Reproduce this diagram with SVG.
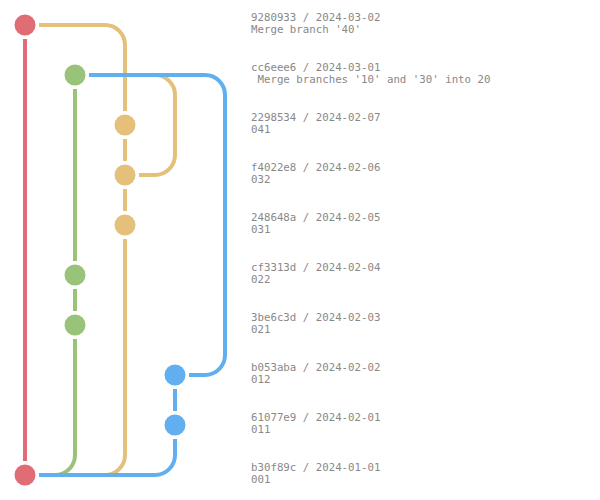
<svg xmlns="http://www.w3.org/2000/svg" width="600" height="500" viewBox="0 0 600 500">
<style>
.c{fill:none;stroke-width:4;stroke-linecap:butt}
.r{stroke:#E06C75}.g{stroke:#98C379}.y{stroke:#E5C07B}.b{stroke:#61AFEF}
.nr{fill:#E06C75}.ng{fill:#98C379}.ny{fill:#E5C07B}.nb{fill:#61AFEF}
text{font-family:"DejaVu Sans Mono","Liberation Mono",monospace;font-size:10.75px;fill:#888;white-space:pre}
</style>
<rect width="600" height="500" fill="#fff"/>
<g id="connectors">
<path class="c r" d="M25 39V461"/>
<path class="c y" d="M39 25H105A20 20 0 0 1 125 45V111"/>
<path class="c y" d="M125 139V161M125 189V211"/>
<path class="c y" d="M139 175H155A20 20 0 0 0 175 155V95A20 20 0 0 0 155 75H89"/>
<path class="c y" d="M125 239V455A20 20 0 0 1 105 475H39"/>
<path class="c g" d="M75 89V261M75 289V311"/>
<path class="c g" d="M75 339V455A20 20 0 0 1 55 475H39"/>
<path class="c b" d="M89 75H205A20 20 0 0 1 225 95V355A20 20 0 0 1 205 375H189"/>
<path class="c b" d="M175 389V411"/>
<path class="c b" d="M175 439V455A20 20 0 0 1 155 475H39"/>
</g>
<g id="n9280933"><circle class="nr" cx="25" cy="25" r="10.5"/><text x="251" y="20.5">9280933 / 2024-03-02</text><text x="251" y="32.5">Merge branch '40'</text></g>
<g id="ncc6eee6"><circle class="ng" cx="75" cy="75" r="10.5"/><text x="251" y="70.5">cc6eee6 / 2024-03-01</text><text x="251" y="82.5"> Merge branches '10' and '30' into 20</text></g>
<g id="n2298534"><circle class="ny" cx="125" cy="125" r="10.5"/><text x="251" y="120.5">2298534 / 2024-02-07</text><text x="251" y="132.5">041</text></g>
<g id="nf4022e8"><circle class="ny" cx="125" cy="175" r="10.5"/><text x="251" y="170.5">f4022e8 / 2024-02-06</text><text x="251" y="182.5">032</text></g>
<g id="n248648a"><circle class="ny" cx="125" cy="225" r="10.5"/><text x="251" y="220.5">248648a / 2024-02-05</text><text x="251" y="232.5">031</text></g>
<g id="ncf3313d"><circle class="ng" cx="75" cy="275" r="10.5"/><text x="251" y="270.5">cf3313d / 2024-02-04</text><text x="251" y="282.5">022</text></g>
<g id="n3be6c3d"><circle class="ng" cx="75" cy="325" r="10.5"/><text x="251" y="320.5">3be6c3d / 2024-02-03</text><text x="251" y="332.5">021</text></g>
<g id="nb053aba"><circle class="nb" cx="175" cy="375" r="10.5"/><text x="251" y="370.5">b053aba / 2024-02-02</text><text x="251" y="382.5">012</text></g>
<g id="n61077e9"><circle class="nb" cx="175" cy="425" r="10.5"/><text x="251" y="420.5">61077e9 / 2024-02-01</text><text x="251" y="432.5">011</text></g>
<g id="nb30f89c"><circle class="nr" cx="25" cy="475" r="10.5"/><text x="251" y="470.5">b30f89c / 2024-01-01</text><text x="251" y="482.5">001</text></g>
</svg>
